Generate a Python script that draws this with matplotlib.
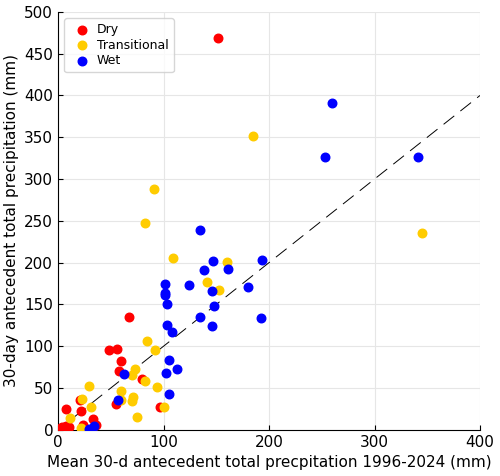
import matplotlib.pyplot as plt

dry_x = [152, 67, 48, 56, 60, 58, 80, 55, 97, 21, 8, 22, 33, 36, 24, 2, 4, 6, 8, 3, 5, 10, 1]
dry_y = [469, 135, 95, 97, 82, 70, 61, 31, 27, 36, 25, 22, 13, 6, 6, 0, 3, 1, 5, 2, 0, 3, 1]
trans_x = [345, 185, 91, 82, 109, 160, 141, 153, 84, 92, 73, 70, 60, 60, 71, 70, 75, 82, 94, 100,
           29, 23, 31, 11, 22]
trans_y = [236, 352, 288, 247, 206, 201, 177, 167, 106, 95, 73, 66, 47, 36, 39, 35, 15, 58, 51, 27,
           52, 37, 27, 14, 2]
wet_x = [260, 253, 341, 135, 147, 138, 161, 193, 101, 101, 101, 124, 146, 103, 180, 148, 135, 192,
         103, 108, 105, 113, 102, 105, 146, 63, 57, 29, 34]
wet_y = [391, 326, 326, 239, 202, 191, 193, 203, 175, 164, 161, 173, 166, 151, 171, 148, 135, 134,
         126, 117, 83, 73, 68, 43, 124, 67, 36, 1, 5]

fig, ax = plt.subplots(figsize=(5.0, 4.76), dpi=100)
ax.plot([0, 400], [0, 400], color="black", lw=0.7, dashes=(14, 8), zorder=1)
ax.scatter(dry_x, dry_y, s=38, color="#ff0000", label="Dry", zorder=3)
ax.scatter(trans_x, trans_y, s=38, color="#ffcc00", label="Transitional", zorder=3)
ax.scatter(wet_x, wet_y, s=38, color="#0000ff", label="Wet", zorder=3)

ax.set_xlim(0, 400)
ax.set_ylim(0, 500)
ax.set_xticks(range(0, 401, 100))
ax.set_yticks(range(0, 501, 50))
ax.grid(True, color="#e6e6e6", lw=0.8)
ax.set_axisbelow(True)
for side in ("top", "right"):
    ax.spines[side].set_visible(False)
ax.tick_params(direction="in", labelsize=11)
ax.set_xlabel("Mean 30-d antecedent total precpitation 1996-2024 (mm)", fontsize=11)
ax.set_ylabel("30-day antecedent total precipitation (mm)", fontsize=11)
ax.legend(loc="upper left", fontsize=9, handletextpad=0.2, borderpad=0.4, labelspacing=0.2)

fig.subplots_adjust(left=0.116, right=0.96, bottom=0.097, top=0.975)
fig.savefig("out.png")
